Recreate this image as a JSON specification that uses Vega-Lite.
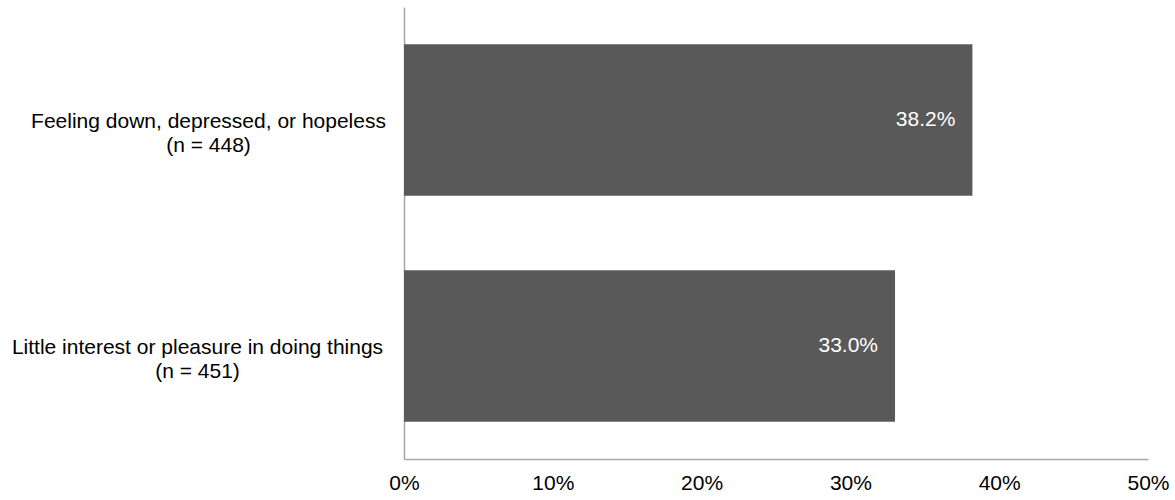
{
  "$schema": "https://vega.github.io/schema/vega-lite/v6.json",
  "width": 744,
  "height": 452,
  "autosize": {"type": "none"},
  "padding": {"left": 404, "top": 7, "right": 27, "bottom": 41},
  "background": "white",
  "config": {
    "view": {"stroke": null},
    "font": "Liberation Sans"
  },
  "data": {
    "values": [
      {"item": "Feeling down, depressed, or hopeless|(n = 448)", "share": 0.382},
      {"item": "Little interest or pleasure in doing things|(n = 451)", "share": 0.330}
    ]
  },
  "encoding": {
    "y": {
      "field": "item",
      "type": "nominal",
      "sort": null,
      "title": null,
      "scale": {"paddingInner": 0.33, "paddingOuter": 0.165},
      "axis": {
        "ticks": false,
        "domainColor": "#a6a6a6",
        "domainWidth": 1.5,
        "labelAlign": "center",
        "labelBaseline": "middle",
        "labelPadding": {
          "condition": {"test": "indexof(datum.value, 'Feeling') == 0", "value": 196},
          "value": 207
        },
        "labelOffset": 2,
        "labelLimit": 0,
        "labelFontSize": 21,
        "labelLineHeight": 24,
        "labelColor": "#000000",
        "labelExpr": "split(datum.label, '|')"
      }
    },
    "x": {
      "field": "share",
      "type": "quantitative",
      "title": null,
      "scale": {"domain": [0, 0.5], "nice": false},
      "axis": {
        "values": [0, 0.1, 0.2, 0.3, 0.4, 0.5],
        "format": ".0%",
        "grid": false,
        "ticks": false,
        "domainColor": "#a6a6a6",
        "domainWidth": 1.5,
        "labelPadding": 13,
        "labelFontSize": 21,
        "labelColor": "#000000",
        "labelFlush": false
      }
    }
  },
  "layer": [
    {"mark": {"type": "bar", "color": "#595959"}},
    {
      "mark": {"type": "text", "align": "right", "baseline": "middle", "dx": -17, "color": "#ffffff", "fontSize": 21},
      "encoding": {"text": {"field": "share", "type": "quantitative", "format": ".1%"}}
    }
  ]
}
